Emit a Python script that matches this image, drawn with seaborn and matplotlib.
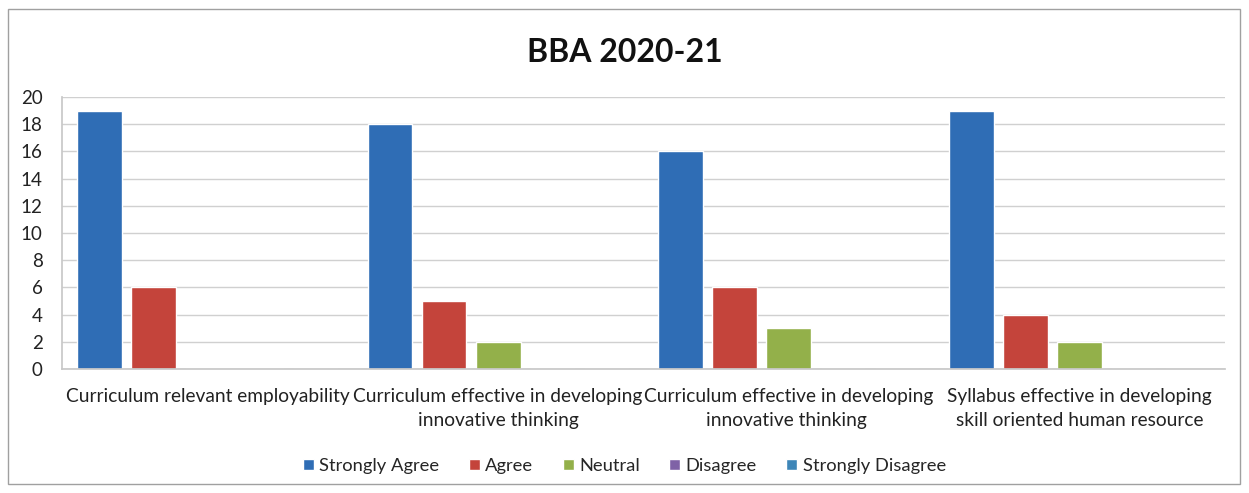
import matplotlib
matplotlib.use("Agg")
import matplotlib.pyplot as plt
import seaborn as sns
import pandas as pd
from matplotlib.patches import Rectangle

categories = ["Curriculum relevant employability",
              "Curriculum effective in developing\ninnovative thinking",
              "Curriculum effective in developing\ninnovative thinking ",
              "Syllabus effective in developing\nskill oriented human resource"]
series = ["Strongly Agree", "Agree", "Neutral", "Disagree", "Strongly Disagree"]
strongly_agree = [19, 18, 16, 19]
agree = [6, 5, 6, 4]
neutral = [0, 2, 3, 2]
disagree = [0, 0, 0, 0]
strongly_disagree = [0, 0, 0, 0]
yticks = list(range(0, 21, 2))
colors = ["#2F6DB5", "#C4443B", "#93B04A", "#7F62A6", "#3E86B8"]

rows = []
for s, vals in zip(series, [strongly_agree, agree, neutral, disagree, strongly_disagree]):
    for c, v in zip(categories, vals):
        rows.append({"cat": c, "series": s, "value": v})
df = pd.DataFrame(rows)

sns.set_theme(style="white")
plt.rcParams['font.family'] = ['Lato', 'DejaVu Sans']

fig = plt.figure(figsize=(12.49, 4.93), dpi=100)
ax = fig.add_axes([62/1249, 1-369/493, 1163/1249, 272/493])
sns.barplot(data=df, x="cat", y="value", hue="series", order=categories,
            hue_order=series, palette=colors, width=0.93, gap=0.17,
            saturation=1, ax=ax, legend=False)
ax.set_ylim(0, 20)
ax.set_yticks(yticks)
ax.set_yticklabels([str(t) for t in yticks], fontsize=13.5, color="#222222")
ax.yaxis.grid(True, color="#D0D0D0", linewidth=1)
ax.set_axisbelow(True)
ax.set_xlim(-0.5, 3.5)
ax.set_xlabel("")
ax.set_ylabel("")
ax.tick_params(axis="x", labelsize=13.8, colors="#222222", length=0, pad=14)
for lbl in ax.get_xticklabels():
    lbl.set_linespacing(1.45)
ax.tick_params(axis="y", length=0, pad=14)
for sp in ["top", "right"]:
    ax.spines[sp].set_visible(False)
ax.spines["left"].set_color("#C8C8C8")
ax.spines["bottom"].set_color("#C8C8C8")

fig.text(0.5, 1-52/493, "BBA 2020-21", ha="center", va="center",
         fontsize=23, fontweight="bold", color="#111111")

handles = [Rectangle((0, 0), 1, 1, facecolor=c) for c in colors]
fig.legend(handles, series, loc="center", bbox_to_anchor=(0.5, 1-466/493),
           ncol=5, frameon=False, fontsize=13.2, handlelength=0.6,
           handleheight=0.6, handletextpad=0.3, columnspacing=1.6)

fig.patches.append(Rectangle((8/1249, 9/493), 1232/1249, 475/493,
                             transform=fig.transFigure, fill=False,
                             edgecolor="#A0A0A0", linewidth=1))
fig.savefig("out.png", dpi=100)
